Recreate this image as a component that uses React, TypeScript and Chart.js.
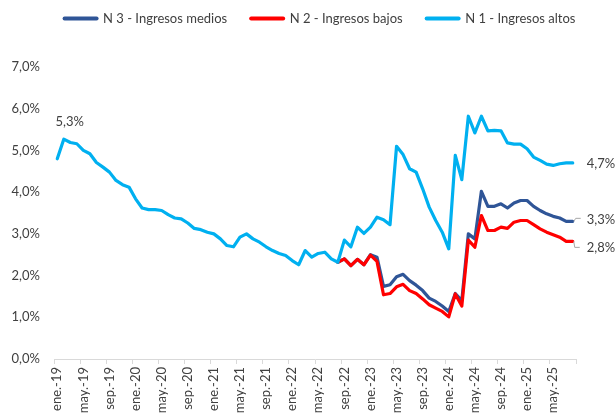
import React, { useEffect, useRef } from 'react';
import { Chart, registerables } from 'chart.js';

Chart.register(...registerables);

// ---- Data ----
const MONTHS = ['ene.', 'feb.', 'mar.', 'abr.', 'may.', 'jun.', 'jul.', 'ago.', 'sep.', 'oct.', 'nov.', 'dic.'];
const YEARS = ['19', '20', '21', '22', '23', '24', '25'];
const LAST_MONTH_2025 = 8; // through ago.-25
const categories: string[] = [];
YEARS.forEach((y, yi) => {
  MONTHS.forEach((m, mi) => {
    if (yi < YEARS.length - 1 || mi < LAST_MONTH_2025) categories.push(`${m}-${y}`);
  });
});

const SERIES_N1_LABEL = 'N 1 - Ingresos altos';
const SERIES_N2_LABEL = 'N 2 - Ingresos bajos';
const SERIES_N3_LABEL = 'N 3 - Ingresos medios';

// N 1 - Ingresos altos (ene.-19 .. ago.-25), %
const n1Values = [
  4.80, 5.27, 5.19, 5.16, 5.00, 4.92, 4.71, 4.60, 4.48, 4.28, 4.18, 4.12,
  3.84, 3.62, 3.58, 3.58, 3.56, 3.46, 3.38, 3.36, 3.26, 3.13, 3.10, 3.04,
  3.00, 2.88, 2.72, 2.69, 2.92, 3.00, 2.88, 2.80, 2.69, 2.60, 2.53, 2.48,
  2.36, 2.26, 2.60, 2.44, 2.53, 2.56, 2.40, 2.32, 2.85, 2.69, 3.16, 3.01,
  3.16, 3.40, 3.34, 3.22, 5.10, 4.90, 4.56, 4.48, 4.08, 3.64, 3.32, 3.04,
  2.64, 4.88, 4.30, 5.82, 5.42, 5.82, 5.47, 5.48, 5.47, 5.18, 5.15, 5.15,
  5.04, 4.84, 4.76, 4.67, 4.64, 4.68, 4.70, 4.70,
];

// N 2 / N 3 start at ago.-22
const SPLIT_START = 'ago.-22';
const n2Values = [
  2.32, 2.40, 2.24, 2.39, 2.26,
  2.49, 2.34, 1.54, 1.57, 1.73, 1.79, 1.64, 1.57, 1.44, 1.30, 1.22, 1.14,
  1.01, 1.56, 1.27, 2.85, 2.68, 3.44, 3.08, 3.08, 3.16, 3.13, 3.28, 3.32,
  3.32, 3.22, 3.12, 3.04, 2.98, 2.92, 2.82, 2.82,
];
const n3Values = [
  2.32, 2.40, 2.24, 2.39, 2.26,
  2.50, 2.44, 1.74, 1.78, 1.97, 2.03, 1.88, 1.77, 1.64, 1.46, 1.38, 1.27,
  1.14, 1.57, 1.40, 3.00, 2.88, 4.02, 3.66, 3.66, 3.72, 3.62, 3.74, 3.80,
  3.80, 3.66, 3.56, 3.48, 3.42, 3.38, 3.30, 3.30,
];

const Y_TICKS_MIN = 0;
const Y_TICKS_MAX = 7;
const Y_STEP = 1;
const LABEL_EVERY = 4;

const COLOR_N1 = '#00B0F0';
const COLOR_N2 = '#FF0000';
const COLOR_N3 = '#2F5597';
const TEXT_COLOR = '#404040';
const AXIS_COLOR = '#d9d9d9';
const FONT = 'Lato, "Liberation Sans", sans-serif';

const startIdx = categories.indexOf(SPLIT_START);
const padSeries = (vals: number[]) =>
  categories.map((_, i) => (i < startIdx ? null : vals[i - startIdx] ?? null));

const fmtPct = (v: number) => v.toFixed(1).replace('.', ',') + '%';

const labelPlugin = {
  id: 'valueLabels',
  afterDatasetsDraw(chart: any) {
    const { ctx } = chart;
    ctx.save();
    ctx.font = `13px ${FONT}`;
    ctx.fillStyle = TEXT_COLOR;
    ctx.textBaseline = 'middle';

    // Peak label on N1 (feb.-19)
    const m1 = chart.getDatasetMeta(2);
    const p = m1.data[1];
    ctx.textAlign = 'center';
    ctx.fillText(fmtPct(n1Values[1]), p.x + 6, p.y - 17);

    // End labels
    ctx.textAlign = 'left';
    const last = categories.length - 1;
    const e1 = m1.data[last];
    ctx.fillText(fmtPct(n1Values[n1Values.length - 1]), e1.x + 14, e1.y + 1);

    ctx.strokeStyle = '#a6a6a6';
    ctx.lineWidth = 1;

    const e3 = chart.getDatasetMeta(0).data[last];
    ctx.beginPath();
    ctx.moveTo(e3.x + 1, e3.y);
    ctx.lineTo(e3.x + 3, e3.y - 3);
    ctx.lineTo(e3.x + 8, e3.y - 3);
    ctx.stroke();
    ctx.fillText(fmtPct(n3Values[n3Values.length - 1]), e3.x + 14, e3.y - 2);

    const e2 = chart.getDatasetMeta(1).data[last];
    ctx.beginPath();
    ctx.moveTo(e2.x + 1, e2.y);
    ctx.lineTo(e2.x + 2, e2.y + 6);
    ctx.lineTo(e2.x + 7, e2.y + 6);
    ctx.stroke();
    ctx.fillText(fmtPct(n2Values[n2Values.length - 1]), e2.x + 14, e2.y + 6);

    ctx.restore();
  },
};

const legendShift = {
  id: 'legendShift',
  afterLayout(chart: any) {
    const lg = chart.legend;
    if (lg) {
      lg.left += 32;
      lg.right += 32;
      lg.top -= 12;
      lg.bottom -= 12;
    }
  },
};

export default function App() {
  const canvasRef = useRef<HTMLCanvasElement | null>(null);

  useEffect(() => {
    if (!canvasRef.current) return;
    Chart.defaults.font.family = FONT;
    const mk = (label: string, data: (number | null)[], color: string, order: number) => ({
      label,
      data,
      borderColor: color,
      backgroundColor: color,
      borderWidth: 3.2,
      pointRadius: 0,
      pointHoverRadius: 0,
      tension: 0,
      borderJoinStyle: 'round' as const,
      borderCapStyle: 'round' as const,
      order,
    });
    const chart = new Chart(canvasRef.current, {
      type: 'line',
      data: {
        labels: categories,
        datasets: [
          mk(SERIES_N3_LABEL, padSeries(n3Values), COLOR_N3, 3),
          mk(SERIES_N2_LABEL, padSeries(n2Values), COLOR_N2, 2),
          mk(SERIES_N1_LABEL, n1Values, COLOR_N1, 1),
        ],
      },
      options: {
        responsive: false,
        maintainAspectRatio: false,
        animation: false,
        events: [],
        layout: { padding: { top: 0, right: 39, left: 0, bottom: 0 } },
        plugins: {
          tooltip: { enabled: false },
          title: {
            display: true,
            text: '',
            weight: 500,
            font: { size: 10 },
            padding: { top: 8, bottom: 0 },
          } as any,
          legend: {
            position: 'top',
            align: 'center',
            labels: {
              usePointStyle: true,
              pointStyleWidth: 32,
              padding: 24,
              color: TEXT_COLOR,
              font: { size: 13 },
              generateLabels: (chart: any) =>
                chart.data.datasets.map((ds: any, i: number) => ({
                  text: ds.label,
                  fillStyle: ds.borderColor,
                  strokeStyle: ds.borderColor,
                  lineWidth: 4,
                  lineCap: 'round',
                  pointStyle: 'line',
                  hidden: false,
                  datasetIndex: i,
                  fontColor: TEXT_COLOR,
                })),
            },
          },
        },
        scales: {
          x: {
            type: 'category',
            offset: true,
            grid: {
              display: true,
              drawOnChartArea: false,
              drawTicks: true,
              tickLength: 5,
              offset: true,
              lineWidth: 1,
              color: (ctx: any) =>
                ctx.index === undefined || ctx.index % LABEL_EVERY === 0 ? AXIS_COLOR : 'rgba(0,0,0,0)',
            },
            border: { display: true, color: AXIS_COLOR, width: 1 },
            ticks: {
              autoSkip: false,
              maxRotation: 90,
              minRotation: 90,
              padding: 3,
              color: TEXT_COLOR,
              font: { size: 13 },
              callback: (_v: any, i: number) => (i % LABEL_EVERY === 0 ? categories[i] : ''),
            },
            afterFit: (s: any) => {
              s.height = 58;
            },
          },
          y: {
            min: Y_TICKS_MIN,
            max: Y_TICKS_MAX,
            grid: { display: false, drawTicks: false },
            border: { display: false },
            ticks: {
              stepSize: Y_STEP,
              padding: 14,
              color: TEXT_COLOR,
              font: { size: 13 },
              callback: (v: any) => fmtPct(Number(v)),
            },
            afterFit: (s: any) => {
              s.width = 54;
            },
          },
        },
      },
      plugins: [labelPlugin, legendShift],
    });
    return () => chart.destroy();
  }, []);

  return (
    <div style={{ position: 'absolute', left: 0, top: 0, width: 615, height: 417, background: '#fff' }}>
      <canvas ref={canvasRef} width={615} height={417} style={{ display: 'block' }} />
    </div>
  );
}
